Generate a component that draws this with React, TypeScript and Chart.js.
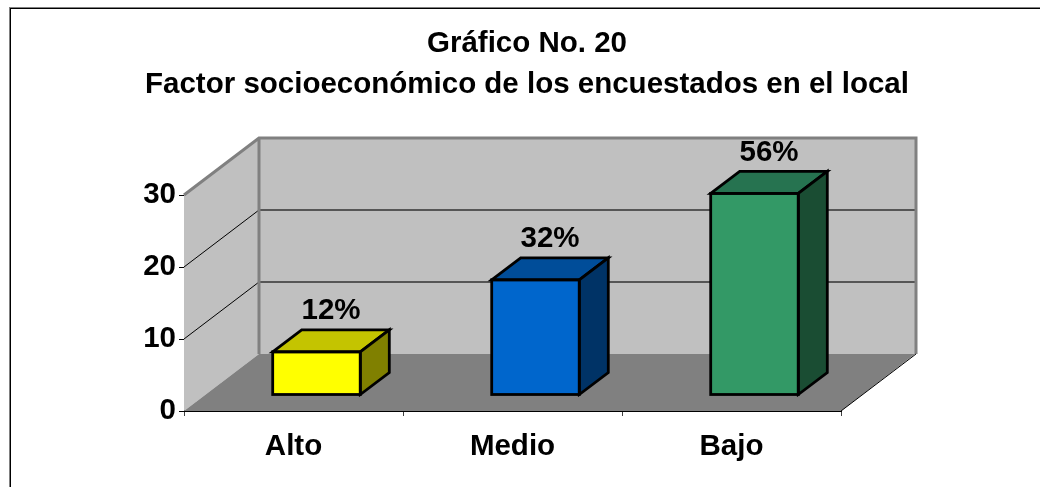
import React, { useEffect, useRef } from "react";
import { Chart, registerables } from "chart.js";

Chart.register(...registerables);

const categories = ["Alto", "Medio", "Bajo"];
const values = [6, 16, 28];
const percentLabels = ["12%", "32%", "56%"];
const frontColors = ["#FFFF00", "#0066CC", "#339966"];
const topColors = ["#C4C400", "#004D99", "#267350"];
const sideColors = ["#808000", "#003366", "#1A4D33"];
const titleLines = ["Gráfico No. 20", "Factor socioeconómico de los encuestados en el local"];
const yTicks = [0, 10, 20, 30];

const FONT = "'Liberation Sans', Arial, sans-serif";
const WALL_DX = 75;
const WALL_DY = -57;
const BAR_DX = 23;
const BAR_DY = -16;
const DEPTH_DX = 29;
const DEPTH_DY = -22;

function poly(ctx: CanvasRenderingContext2D, pts: number[][]) {
  ctx.beginPath();
  pts.forEach((p, i) => (i ? ctx.lineTo(p[0], p[1]) : ctx.moveTo(p[0], p[1])));
  ctx.closePath();
}

const frame3d = {
  id: "frame3d",
  beforeDraw(chart: any) {
    const { ctx, width, height } = chart;
    ctx.save();
    ctx.fillStyle = "#FFFFFF";
    ctx.fillRect(0, 0, width, height);
    ctx.fillStyle = "#808080";
    ctx.fillRect(9, 7, 1, height - 7);
    ctx.fillRect(9, 7, width - 9, 1);
    ctx.fillStyle = "#000000";
    ctx.fillRect(10, 8, 1, height - 8);
    ctx.fillRect(10, 8, width - 10, 1);
    ctx.restore();
  },
  beforeDatasetsDraw(chart: any) {
    const { ctx, chartArea: a, scales } = chart;
    const y = scales.y;
    const L = a.left, R = a.right, T = a.top, B = a.bottom;
    ctx.save();
    ctx.fillStyle = "#C0C0C0";
    poly(ctx, [[L, T], [L + WALL_DX, T + WALL_DY], [L + WALL_DX, B + WALL_DY], [L, B]]);
    ctx.fill();
    ctx.fillRect(L + WALL_DX, T + WALL_DY, R - L, B - T);
    ctx.fillStyle = "#808080";
    poly(ctx, [[L, B], [R, B], [R + WALL_DX - 1, B + WALL_DY], [L + WALL_DX, B + WALL_DY]]);
    ctx.fill();

    y.ticks.forEach((t: any) => {
      if (t.value === 0 || t.value === 30) return;
      const py = y.getPixelForValue(t.value);
      ctx.strokeStyle = "#000000";
      ctx.lineWidth = 1;
      ctx.beginPath();
      ctx.moveTo(L, py);
      ctx.lineTo(L + WALL_DX, py + WALL_DY);
      ctx.stroke();
      ctx.strokeStyle = "#333333";
      ctx.lineWidth = 1.5;
      ctx.beginPath();
      ctx.moveTo(L + WALL_DX, py + WALL_DY);
      ctx.lineTo(R + WALL_DX, py + WALL_DY);
      ctx.stroke();
    });

    ctx.strokeStyle = "#808080";
    ctx.lineWidth = 3;
    ctx.lineJoin = "miter";
    ctx.beginPath();
    ctx.moveTo(L, T);
    ctx.lineTo(L + WALL_DX, T + WALL_DY);
    ctx.lineTo(R + WALL_DX, T + WALL_DY);
    ctx.lineTo(R + WALL_DX, B + WALL_DY);
    ctx.moveTo(L + WALL_DX, T + WALL_DY);
    ctx.lineTo(L + WALL_DX, B + WALL_DY);
    ctx.stroke();

    ctx.strokeStyle = "#000000";
    ctx.lineWidth = 1;
    ctx.beginPath();
    ctx.moveTo(R, B);
    ctx.lineTo(R + WALL_DX, B + WALL_DY);
    ctx.stroke();
    ctx.restore();
  },
  beforeDatasetDraw(chart: any) {
    chart.ctx.save();
    chart.ctx.translate(BAR_DX, BAR_DY);
  },
  afterDatasetDraw(chart: any) {
    chart.ctx.restore();
  },
  afterDatasetsDraw(chart: any) {
    const { ctx } = chart;
    const bars = chart.getDatasetMeta(0).data;
    ctx.save();
    ctx.translate(BAR_DX, BAR_DY);
    ctx.strokeStyle = "#000000";
    ctx.lineWidth = 2.8;
    ctx.lineJoin = "miter";
    bars.forEach((bar: any, i: number) => {
      const { x, y, base, width } = bar.getProps(["x", "y", "base", "width"], true);
      const l = x - width / 2, r = x + width / 2;
      ctx.fillStyle = topColors[i];
      poly(ctx, [[l, y], [r, y], [r + DEPTH_DX, y + DEPTH_DY], [l + DEPTH_DX, y + DEPTH_DY]]);
      ctx.fill();
      ctx.stroke();
      ctx.fillStyle = sideColors[i];
      poly(ctx, [[r, y], [r + DEPTH_DX, y + DEPTH_DY], [r + DEPTH_DX, base + DEPTH_DY], [r, base]]);
      ctx.fill();
      ctx.stroke();
      ctx.strokeRect(l, y, width, base - y);

      ctx.fillStyle = "#000000";
      ctx.font = `bold 29.5px ${FONT}`;
      ctx.textAlign = "center";
      ctx.textBaseline = "alphabetic";
      ctx.fillText(percentLabels[i], x + DEPTH_DX / 2, y + DEPTH_DY - 10.5);
    });
    ctx.restore();
  },
  afterLayout(chart: any) {
    if (chart.titleBlock) {
      chart.titleBlock.left = 14;
      chart.titleBlock.right = chart.width;
    }
  },
};

export default function App() {
  const ref = useRef<HTMLCanvasElement>(null);
  useEffect(() => {
    const chart = new Chart(ref.current!, {
      type: "bar",
      data: {
        labels: categories,
        datasets: [
          {
            data: values,
            backgroundColor: frontColors,
            borderWidth: 0,
            barPercentage: 1,
            categoryPercentage: 0.4,
            clip: false as any,
          },
        ],
      },
      options: {
        responsive: false,
        animation: false,
        devicePixelRatio: 1,
        layout: { padding: { left: 0, right: 199, top: 0, bottom: 0 } },
        plugins: {
          legend: { display: false },
          tooltip: { enabled: false },
          title: {
            display: true,
            text: titleLines,
            color: "#000000",
            font: { family: FONT, size: 29.5, weight: "bold", lineHeight: 41 / 29.5 },
            padding: { top: 23, bottom: 90 },
          },
        },
        scales: {
          x: {
            afterFit: (s: any) => {
              s.height = 76;
            },
            border: { display: true, color: "#000000", width: 1 },
            grid: { display: true, drawOnChartArea: false, drawTicks: true, tickLength: 5, tickColor: "#404040", offset: true },
            ticks: { color: "#000000", padding: 13, maxRotation: 0, font: { family: FONT, size: 29.5, weight: "bold" } },
          },
          y: {
            min: 0,
            max: 30,
            afterFit: (s: any) => {
              s.width = 184;
            },
            afterBuildTicks: (s: any) => {
              s.ticks = yTicks.map((value) => ({ value }));
            },
            border: { display: true, color: "#000000", width: 1 },
            grid: { display: true, drawOnChartArea: false, drawTicks: true, tickLength: 5, tickColor: "#000000" },
            ticks: { color: "#000000", padding: 3, font: { family: FONT, size: 29.5, weight: "bold" } },
          },
        },
      },
      plugins: [frame3d],
    });
    return () => chart.destroy();
  }, []);
  return (
    <canvas
      ref={ref}
      width={1040}
      height={487}
      style={{ position: "fixed", left: 0, top: 0, display: "block" }}
    />
  );
}
